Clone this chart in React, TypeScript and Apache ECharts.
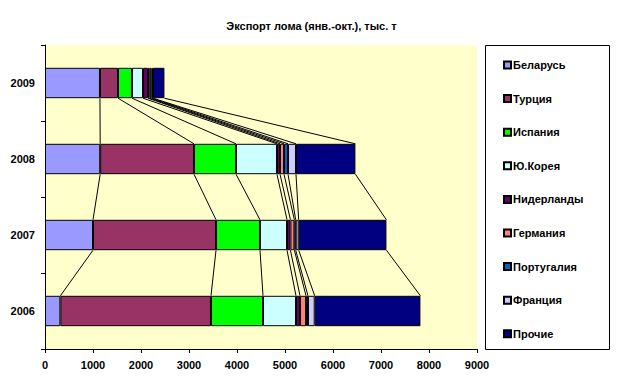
import React, { useEffect, useRef } from "react";
import * as echarts from "echarts";

const categories = ["2006", "2007", "2008", "2009"];
const seriesNames = [
  "Беларусь",
  "Турция",
  "Испания",
  "Ю.Корея",
  "Нидерланды",
  "Германия",
  "Португалия",
  "Франция",
  "Прочие",
];
const belarus = [320, 1000, 1150, 1145];
const turkey = [3138, 2563, 1954, 376];
const spain = [1084, 916, 875, 292];
const korea = [687, 563, 854, 229];
const netherlands = [84, 71, 63, 104];
const germany = [125, 83, 83, 35];
const portugal = [41, 27, 84, 42];
const france = [140, 62, 166, 27];
const others = [2202, 1828, 1238, 238];

const seriesValues = [belarus, turkey, spain, korea, netherlands, germany, portugal, france, others];
const colors = [
  "#9999FF",
  "#993366",
  "#00FF00",
  "#CCFFFF",
  "#660066",
  "#FF8080",
  "#0066CC",
  "#CCCCFF",
  "#000080",
];

const FONT = 'Arial, "Liberation Sans", sans-serif';

export default function App() {
  const ref = useRef<HTMLDivElement>(null);
  useEffect(() => {
    if (!ref.current) return;
    const chart = echarts.init(ref.current, null, { renderer: "svg" });

    // cumulative boundaries per category
    const cum: number[][] = categories.map((_, ci) => {
      let s = 0;
      return seriesValues.map((arr) => (s += arr[ci]));
    });
    const lineData: number[][] = [];
    for (let ci = 0; ci < categories.length - 1; ci++) {
      for (let si = 0; si < seriesValues.length; si++) {
        lineData.push([cum[ci][si], cum[ci + 1][si], ci]);
      }
    }

    const bars = seriesNames.map((name, i) => ({
      name,
      type: "bar",
      stack: "total",
      barWidth: "40%",
      data: seriesValues[i],
      itemStyle: { color: colors[i], borderColor: "#000", borderWidth: 1 },
      emphasis: { disabled: true },
      z: 3,
    }));

    chart.setOption({
      animation: false,
      backgroundColor: "#fff",
      textStyle: { fontFamily: FONT },
      title: {
        text: "Экспорт лома (янв.-окт.), тыс. т",
        left: "center",
        top: 15,
        textStyle: { fontSize: 11, fontWeight: "bold", color: "#000", fontFamily: FONT },
      },
      grid: {
        left: 45,
        right: 146,
        top: 45,
        bottom: 38,
        show: true,
        backgroundColor: "#FFFFCC",
        borderWidth: 0,
      },
      graphic: [
        {
          type: "rect",
          shape: { x: 485.5, y: 45.5, width: 124, height: 304 },
          style: { fill: "#fff", stroke: "#000", lineWidth: 1 },
          z: 0,
          silent: true,
        },
      ],
      legend: {
        data: seriesNames,
        orient: "vertical",
        left: 503,
        top: 58,
        padding: 0,
        itemWidth: 7,
        itemHeight: 7,
        itemGap: 19.6,
        icon: "rect",
        textStyle: {
          fontSize: 11,
          fontWeight: "bold",
          color: "#000",
          fontFamily: FONT,
          lineHeight: 14,
          padding: [0, 0, 0, -3],
        },
        z: 5,
      },
      xAxis: {
        type: "value",
        min: 0,
        max: 9000,
        interval: 1000,
        axisLine: { show: true, lineStyle: { color: "#000", width: 1 } },
        axisTick: { show: true, length: 4, lineStyle: { color: "#000" } },
        splitLine: { show: false },
        axisLabel: {
          fontSize: 11,
          fontWeight: "bold",
          color: "#000",
          margin: 10,
          fontFamily: FONT,
          formatter: (v: number) => String(v),
        },
      },
      yAxis: {
        type: "category",
        data: categories,
        axisLine: { show: true, lineStyle: { color: "#000", width: 1 } },
        axisTick: { show: true, length: 4, lineStyle: { color: "#000" } },
        axisLabel: { fontSize: 11, fontWeight: "bold", color: "#000", margin: 10, fontFamily: FONT },
      },
      series: [
        ...bars,
        {
          type: "custom",
          name: "seriesLines",
          data: lineData,
          encode: { x: [0, 1], y: 2 },
          silent: true,
          z: 2,
          renderItem: (params: any, api: any) => {
            const lo = api.value(0);
            const hi = api.value(1);
            const idx = api.value(2);
            const p1 = api.coord([lo, idx]);
            const p2 = api.coord([hi, idx + 1]);
            const band = api.size([0, 1])[1];
            const half = band * 0.2;
            return {
              type: "line",
              shape: { x1: p1[0], y1: p1[1] - half, x2: p2[0], y2: p2[1] + half },
              style: { stroke: "#000", lineWidth: 1 },
            };
          },
        },
      ],
    });
    return () => chart.dispose();
  }, []);
  return (
    <div
      ref={ref}
      style={{ position: "fixed", left: 0, top: 0, width: 623, height: 387 }}
    />
  );
}
